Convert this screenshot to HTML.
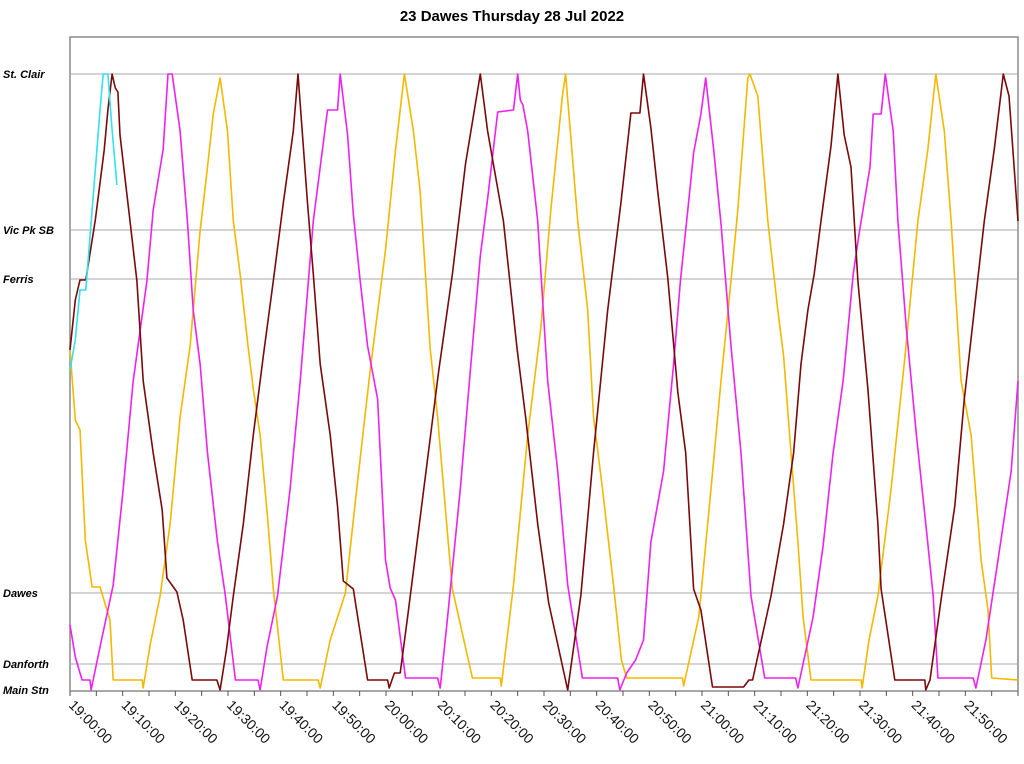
<!DOCTYPE html>
<html><head><meta charset="utf-8"><style>
html,body{margin:0;padding:0;background:#fff;}
svg{display:block;font-family:"Liberation Sans",Arial,sans-serif;}
</style></head><body>
<svg id="chart" width="1024" height="764" viewBox="0 0 1024 764" xmlns="http://www.w3.org/2000/svg">
<text x="512" y="21" text-anchor="middle" font-size="15" font-weight="bold" fill="#000">23 Dawes Thursday 28 Jul 2022</text>
<rect x="70" y="37" width="948" height="654" fill="none" stroke="#8a8a8a" stroke-width="1.5"/>
<g id="grid"></g><g id="series"></g><g id="axes"></g>
</svg>
<script>
const stationNames = ["St. Clair","Vic Pk SB","Ferris","Dawes","Danforth","Main Stn"];
const stationPos = [616,460,411,97,26,0];
const tickLabels = ["19:00:00","19:10:00","19:20:00","19:30:00","19:40:00","19:50:00","20:00:00","20:10:00","20:20:00","20:30:00","20:40:00","20:50:00","21:00:00","21:10:00","21:20:00","21:30:00","21:40:00","21:50:00"];
const tickMinutes = [0,10,20,30,40,50,60,70,80,90,100,110,120,130,140,150,160,170];
const brownT = [0,1.0,1.9,3.0,4.8,6.5,7.2,8.0,8.6,9.1,9.5,11.4,12.7,13.9,15.8,17.5,18.4,20.3,21.5,23.2,27.9,28.5,29.7,31.0,32.9,34.8,36.7,38.6,40.5,42.4,43.3,45.1,46.2,47.5,49.4,50.8,51.9,53.8,56.5,60.3,60.6,61.6,62.7,64.1,70.0,72.6,75.1,77.9,79.3,82.3,84.9,86.5,88.8,90.9,94.5,97.0,99.4,102.1,104.6,106.5,108.2,108.9,110.3,111.6,113.5,115.4,116.9,118.4,119.8,122.0,127.9,128.9,129.6,133.1,135.5,137.4,138.8,140.1,141.3,142.6,144.5,145.8,147.0,148.3,149.6,151.5,153.4,154.0,156.6,162.3,162.5,163.3,165.5,168.0,169.8,171.7,173.6,175.5,177.2,178.3,180];
const brownP = [340,390,410,410,470,540,580,616,602,598,555,469,409,309,237,180,112,98,70,10,10,0,40,94,166,255,334,409,487,559,616,487,416,326,255,184,109,101,10,10,2,17,17,73,319,416,526,616,559,469,341,273,166,87,0,95,237,380,487,577,577,616,562,498,412,298,237,101,80,3,3,10,10,94,166,237,326,380,416,469,544,616,555,523,409,301,166,101,10,10,0,10,94,184,291,380,469,541,616,594,469];
const magentaT = [0,1.0,2.3,3.8,4.0,5.7,8.2,10.1,12.0,14.6,15.8,17.7,18.6,19.4,20.9,22.3,23.4,24.7,26.1,28.0,29.5,31.4,35.7,36.1,37.4,39.4,41.8,43.7,45.1,46.2,48.9,50.8,51.3,52.7,53.8,55.1,56.5,58.4,59.9,60.8,61.8,63.7,69.8,70.3,71.7,74.1,76.0,77.9,79.3,81.2,84.2,85.0,85.5,86.0,86.9,88.8,90.7,92.6,94.5,97.3,104.0,104.4,105.7,107.4,108.9,110.3,112.7,114.6,115.9,117.3,118.4,119.8,120.7,122.2,123.6,125.5,127.4,129.3,131.9,137.8,138.2,141.1,143.0,144.9,146.8,148.7,150.0,151.9,152.5,154.0,154.8,156.3,157.2,158.8,160.7,162.5,163.9,164.8,171.5,172.0,173.9,176.2,178.7,180];
const magentaP = [65,33,10,10,0,43,105,201,309,409,480,541,616,616,559,469,380,326,237,148,94,10,10,0,43,94,201,309,398,469,580,580,616,555,476,409,344,291,130,102,90,12,12,2,73,201,319,434,491,578,580,616,590,585,559,469,309,219,105,12,12,0,17,30,50,148,219,326,409,480,537,576,612,541,466,344,237,94,12,12,2,73,144,237,309,416,462,523,576,576,616,559,469,362,255,166,94,12,12,2,50,130,219,309];
const orangeT = [0,1.0,1.9,2.9,4.2,5.7,7.6,8.2,13.7,13.9,15.2,17.1,19.0,20.9,22.8,24.7,26.1,27.2,28.5,29.9,31.0,32.3,33.8,34.8,36.1,37.5,38.6,40.5,47.1,47.5,49.4,52.3,54.2,57.0,59.9,61.8,63.5,65.2,66.5,68.4,69.8,71.7,72.6,76.4,81.7,81.9,84.2,86.9,89.4,91.3,93.5,94.1,96.4,98.3,99.4,101.1,103.2,104.7,105.7,116.3,116.5,119.4,121.7,123.6,125.5,126.8,128.7,129.1,130.6,132.5,134.4,135.5,136.9,138.2,139.2,140.7,150.2,150.4,151.7,153.4,155.9,158.4,161.0,162.9,164.4,166.0,167.3,169.2,171.1,173.0,174.3,175.0,180];
const orangeP = [340,270,260,150,103,103,70,10,10,2,45,94,166,273,344,459,523,576,612,559,469,416,344,301,255,173,101,10,10,2,50,97,190,320,440,540,616,559,498,341,273,155,101,12,12,4,105,255,362,480,594,616,469,380,273,201,105,30,12,12,4,73,201,309,409,480,612,616,594,469,380,334,237,148,73,10,10,2,50,94,201,326,469,541,616,559,469,309,255,130,80,12,10];
const cyanT = [0,1.0,1.9,3.0,4.2,5.1,5.7,6.3,7.2,8.0,8.9];
const cyanP = [320,350,400,400,480,540,580,616,616,560,505];

const NS="http://www.w3.org/2000/svg";
const X0=70, X1=1018, TMAX=180;
function xs(t){return X0+t*(X1-X0)/TMAX;}
function ys(p){return 690-p;}
function mk(tag,attrs,parent){const e=document.createElementNS(NS,tag);for(const k in attrs)e.setAttribute(k,attrs[k]);parent.appendChild(e);return e;}
const grid=document.getElementById('grid'), axes=document.getElementById('axes'), ser=document.getElementById('series');
stationNames.forEach((n,i)=>{
  const y=ys(stationPos[i]);
  if(stationPos[i]>0){
    const l=mk('line',{x1:X0,x2:X1,y1:y,y2:y,stroke:'#a8a8a8','stroke-width':1},grid);
    
    
  }
  const t=mk('text',{x:3,y:y+4,'font-size':11,'font-weight':'bold','font-style':'italic',fill:'#000'},axes);
  t.textContent=n;
  
  
});
for(let m=0;m<=TMAX;m+=5){
  const x=xs(m);
  const tk=mk('line',{x1:x,x2:x,y1:691,y2:696,stroke:'#555','stroke-width':1},axes);
  
  
}
tickLabels.forEach((lab,i)=>{
  const x=xs(tickMinutes[i]);
  const t=mk('text',{x:0,y:0,'font-size':14,fill:'#111',transform:`translate(${x-2},${706}) rotate(45)`},axes);
  t.textContent=lab;
  
  
});
function drawSeries(T,P,color,name){
  const d=T.map((t,i)=>(i?'L':'M')+xs(t).toFixed(1)+','+ys(P[i]).toFixed(1)).join(' ');
  const p=mk('path',{d:d,fill:'none',stroke:color,'stroke-width':1.6,'stroke-linejoin':'round'},ser);
  
  
}
drawSeries(orangeT,orangeP,'#f5b800','vehicle-line-orange');
drawSeries(magentaT,magentaP,'#ee22ee','vehicle-line-magenta');
drawSeries(brownT,brownP,'#7a0a0a','vehicle-line-brown');
drawSeries(cyanT,cyanP,'#33e0f0','vehicle-line-cyan');
</script>
</body></html>
